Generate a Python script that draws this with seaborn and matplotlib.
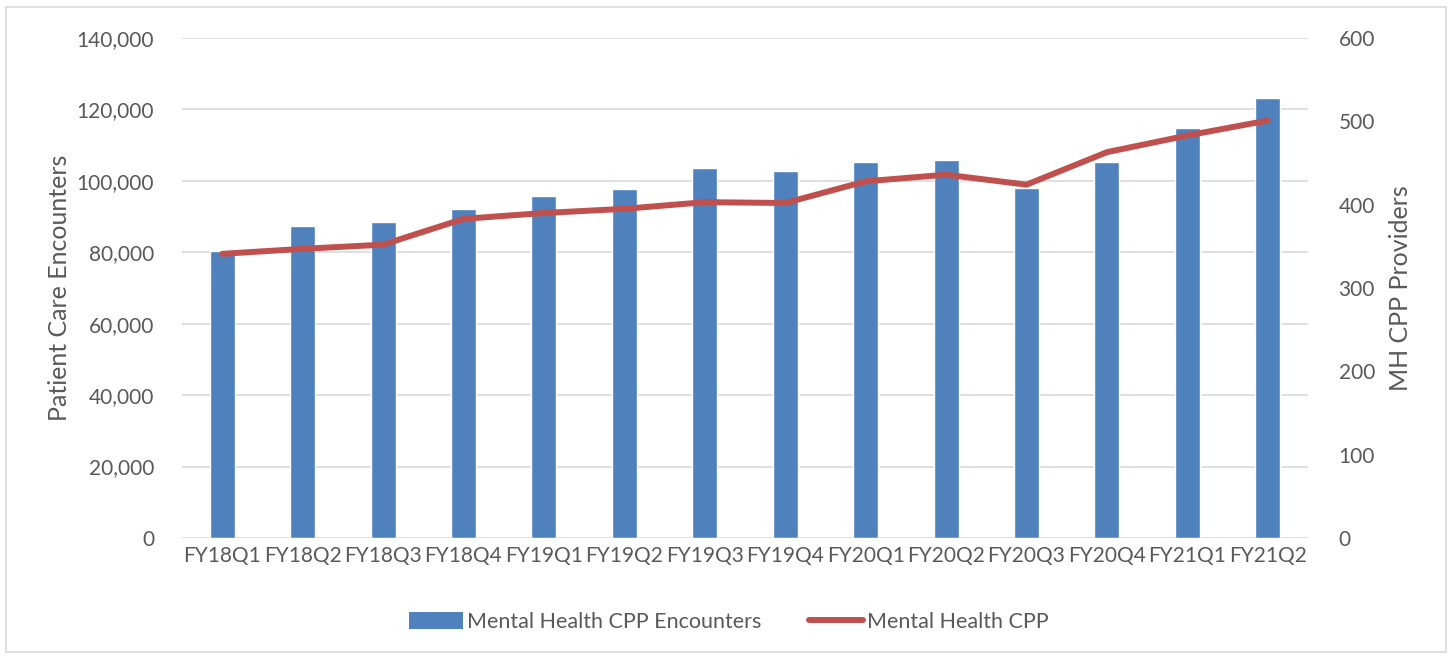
import numpy as np
import pandas as pd
import matplotlib
matplotlib.use("Agg")
import matplotlib.pyplot as plt
import seaborn as sns
from matplotlib.patches import Rectangle, Patch
from matplotlib.lines import Line2D
from matplotlib.ticker import FuncFormatter, MultipleLocator

categories = ["FY18Q1", "FY18Q2", "FY18Q3", "FY18Q4", "FY19Q1", "FY19Q2", "FY19Q3",
              "FY19Q4", "FY20Q1", "FY20Q2", "FY20Q3", "FY20Q4", "FY21Q1", "FY21Q2"]
encounters = [80300, 87400, 88600, 92200, 95800, 97600, 103500,
              102900, 105300, 105800, 98100, 105300, 114800, 123200]
providers = [341, 347, 352, 383, 390, 395, 403,
             402, 428, 436, 424, 463, 483, 501]

bar_label = "Mental Health CPP Encounters"
line_label = "Mental Health CPP"

df = pd.DataFrame({"cat": categories, "enc": encounters, "prov": providers})

sns.set_theme(style="white")
plt.rcParams["font.family"] = ["Lato", "DejaVu Sans"]

BLUE = "#4F81BD"
RED = "#C0504D"
TXT = "#595959"

fig = plt.figure(figsize=(14.52, 6.57), dpi=100)
ax = fig.add_axes([182/1452, 1 - 538/657, (1308-182)/1452, 500/657])

sns.barplot(data=df, x="cat", y="enc", color=BLUE, width=0.31, ax=ax,
            saturation=1, zorder=2)
ax.set_ylim(0, 140000)
ax.set_xlim(-0.5, len(categories) - 0.5)
ax.yaxis.set_major_locator(MultipleLocator(20000))
ax.yaxis.set_major_formatter(FuncFormatter(lambda v, p: f"{int(v):,}"))
ax.grid(axis="y", color="#D9D9D9", linewidth=1.2, zorder=0)
ax.set_axisbelow(True)
ax.set_xlabel("")
ax.set_ylabel("Patient Care Encounters", fontsize=18, color=TXT, labelpad=4)
ax.tick_params(axis="y", labelsize=15, colors=TXT, pad=20, length=0)
ax.tick_params(axis="x", labelsize=15, colors=TXT, pad=6, length=0)
for s in ax.spines.values():
    s.set_visible(False)

ax2 = ax.twinx()
sns.lineplot(data=df, x="cat", y="prov", color=RED, linewidth=4.3, ax=ax2,
             sort=False, solid_capstyle="round", solid_joinstyle="round")
ax2.set_ylim(0, 600)
ax2.yaxis.set_major_locator(MultipleLocator(100))
ax2.set_ylabel("MH CPP Providers", fontsize=18, color=TXT, labelpad=10)
ax2.tick_params(axis="y", labelsize=15, colors=TXT, pad=22, length=0)
for s in ax2.spines.values():
    s.set_visible(False)
ax2.grid(False)

handles = [Patch(facecolor=BLUE, edgecolor="none"),
           Line2D([0], [0], color=RED, linewidth=4.3, solid_capstyle="round")]
fig.legend(handles, [bar_label, line_label], loc="center",
           bbox_to_anchor=(729/1452, 1 - 622/657), ncol=2, frameon=False,
           fontsize=15.5, labelcolor=TXT, handlelength=2.5, handleheight=0.85,
           handletextpad=0.2, columnspacing=2.2)

fig.patches.append(Rectangle((6/1452, 5/657), 1440/1452, 645/657,
                             transform=fig.transFigure, fill=False,
                             edgecolor="#D9D9D9", linewidth=1.2))

fig.savefig("out.png", dpi=100)
